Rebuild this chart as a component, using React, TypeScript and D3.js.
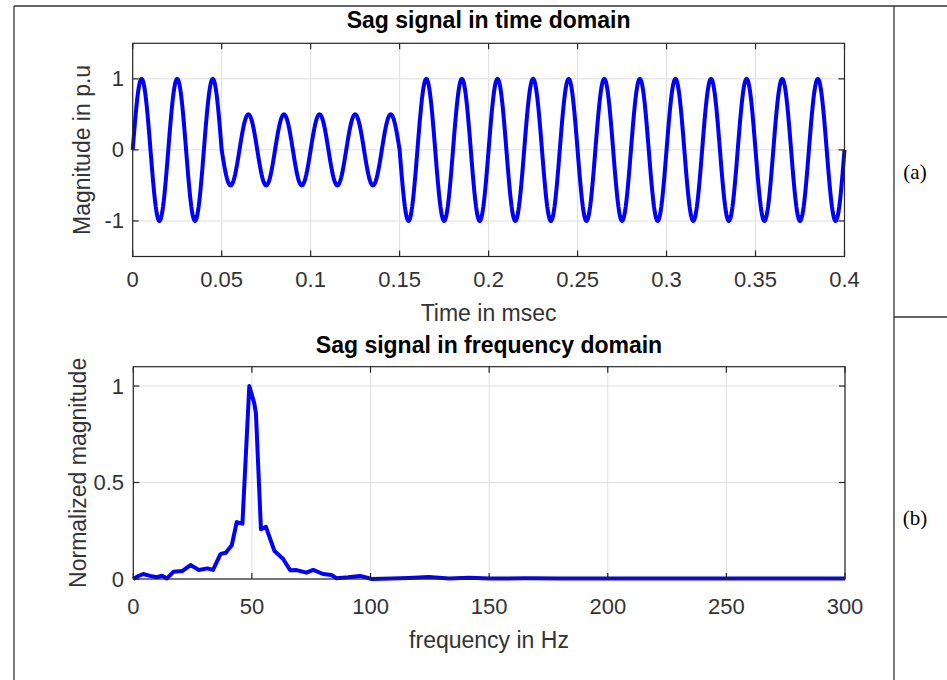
import React from "react";
import * as d3 from "d3";

// ---- Data ----
// Time-domain sag signal: peak value of each 0.01 half-cycle
const halfCycleWidth = 0.01;
const halfCyclePeaks = [
  1, -1, 1, -1, 1,
  -0.5, 0.5, -0.5, 0.5, -0.5, 0.5, -0.5, 0.5, -0.5, 0.5,
  -1, 1, -1, 1, -1, 1, -1, 1, -1, 1, -1, 1, -1, 1, -1, 1, -1, 1, -1, 1, -1, 1, -1, 1, -1,
];
const timeTicks = [0, 0.05, 0.1, 0.15, 0.2, 0.25, 0.3, 0.35, 0.4];
const timeTickLabels = ["0", "0.05", "0.1", "0.15", "0.2", "0.25", "0.3", "0.35", "0.4"];
const magTicks = [-1, 0, 1];

// Frequency-domain spectrum (normalized magnitude)
const freqHz = [0, 2, 4.2, 7.1, 9.9, 12.1, 14.2, 17, 20.6, 24.1, 27.6, 31.2, 33.6, 36.8, 39, 41.5, 43.6, 46, 48.9, 51, 51.7, 53.8, 55.9, 59.5, 63.1, 66.2, 68.8, 73, 75.8, 80, 83.5, 85.7, 90.6, 95.6, 100.6, 109, 116, 124.6, 133, 141.6, 150, 165, 180, 195, 210, 225, 240, 255, 270, 285, 300];
const freqMag = [0, 0.015, 0.026, 0.016, 0.009, 0.017, 0.003, 0.038, 0.041, 0.072, 0.047, 0.055, 0.047, 0.13, 0.136, 0.175, 0.295, 0.287, 1.0, 0.91, 0.857, 0.258, 0.27, 0.145, 0.105, 0.045, 0.046, 0.033, 0.047, 0.026, 0.021, 0.004, 0.009, 0.016, 0.0, 0.002, 0.005, 0.01, 0.003, 0.007, 0.002, 0.004, 0.003, 0.002, 0.003, 0.002, 0.003, 0.002, 0.002, 0.003, 0.003];
const freqTicks = [0, 50, 100, 150, 200, 250, 300];
const normTicks = [0, 0.5, 1];
const normTickLabels = ["0", "0.5", "1"];

const W = 947;
const H = 680;
const AX = "#262626";
const TXT = "#333333";
const GRID = "#dfdfdf";
const BLUE = "#0000ff";
const FONT = "'Liberation Sans', Arial, Helvetica, sans-serif";

export default function App() {
  // top plot
  const x1 = d3.scaleLinear().domain([0, 0.4]).range([132.7, 844.5]);
  const y1 = d3.scaleLinear().domain([-1.5, 1.5]).range([256.5, 43.3]);
  // bottom plot
  const x2 = d3.scaleLinear().domain([0, 300]).range([133.3, 845]);
  const y2 = d3.scaleLinear().domain([0, 1.1]).range([579, 366.7]);

  const sigPts: [number, number][] = [];
  const steps = 24;
  halfCyclePeaks.forEach((p, i) => {
    for (let k = i === 0 ? 0 : 1; k <= steps; k++) {
      const f = k / steps;
      sigPts.push([(i + f) * halfCycleWidth, p * Math.sin(Math.PI * f)]);
    }
  });
  const line1 = d3.line<[number, number]>().x((d) => x1(d[0])).y((d) => y1(d[1]));
  const specPts: [number, number][] = freqHz.map((f, i) => [f, freqMag[i]]);
  const line2 = d3.line<[number, number]>().x((d) => x2(d[0])).y((d) => y2(d[1]));

  const tickLen = 6;

  const axesGrid = (
    xs: d3.ScaleLinear<number, number>,
    ys: d3.ScaleLinear<number, number>,
    xt: number[],
    yt: number[]
  ) => {
    const [l, r] = xs.range();
    const [b, t] = ys.range();
    return (
      <g>
        {xt.map((v, i) => (
          <line key={"gx" + i} x1={xs(v)} x2={xs(v)} y1={t} y2={b} stroke={GRID} strokeWidth={1} />
        ))}
        {yt.map((v, i) => (
          <line key={"gy" + i} x1={l} x2={r} y1={ys(v)} y2={ys(v)} stroke={GRID} strokeWidth={1} />
        ))}
      </g>
    );
  };

  const axesFrame = (
    xs: d3.ScaleLinear<number, number>,
    ys: d3.ScaleLinear<number, number>,
    xt: number[],
    yt: number[]
  ) => {
    const [l, r] = xs.range();
    const [b, t] = ys.range();
    return (
      <g stroke={AX} strokeWidth={1.2} fill="none">
        <rect x={l} y={t} width={r - l} height={b - t} />
        {xt.map((v, i) => (
          <g key={"tx" + i}>
            <line x1={xs(v)} x2={xs(v)} y1={b} y2={b - tickLen} />
            <line x1={xs(v)} x2={xs(v)} y1={t} y2={t + tickLen} />
          </g>
        ))}
        {yt.map((v, i) => (
          <g key={"ty" + i}>
            <line x1={l} x2={l + tickLen} y1={ys(v)} y2={ys(v)} />
            <line x1={r} x2={r - tickLen} y1={ys(v)} y2={ys(v)} />
          </g>
        ))}
      </g>
    );
  };

  return (
    <svg
      width={W}
      height={H}
      style={{ position: "absolute", left: 0, top: 0, background: "#fff" }}
      fontFamily={FONT}
    >
      <rect x={0} y={0} width={W} height={H} fill="#fff" />
      {/* table borders */}
      <g stroke="#333" strokeWidth={1.3}>
        <line x1={14} x2={W} y1={6} y2={6} />
        <line x1={14} x2={14} y1={6} y2={H} />
        <line x1={894} x2={894} y1={6} y2={H} />
        <line x1={894} x2={W} y1={317} y2={317} />
      </g>
      <text x={915} y={172} fontFamily="'Liberation Serif', 'Times New Roman', serif" fontSize={21} textAnchor="middle" dominantBaseline="central" fill="#000">(a)</text>
      <text x={915} y={518} fontFamily="'Liberation Serif', 'Times New Roman', serif" fontSize={21} textAnchor="middle" dominantBaseline="central" fill="#000">(b)</text>

      {/* ---------- top plot ---------- */}
      {axesGrid(x1, y1, timeTicks, magTicks)}
      <path d={line1(sigPts) || ""} fill="none" stroke={BLUE} strokeWidth={4} strokeLinejoin="round" />
      {axesFrame(x1, y1, timeTicks, magTicks)}
      {timeTicks.map((v, i) => (
        <text key={"xl1" + i} x={x1(v)} y={287} fontSize={22} textAnchor="middle" fill={TXT}>{timeTickLabels[i]}</text>
      ))}
      {magTicks.map((v, i) => (
        <text key={"yl1" + i} x={124} y={y1(v)} fontSize={22} textAnchor="end" dominantBaseline="central" fill={TXT}>{String(v)}</text>
      ))}
      <text x={488.6} y={321} fontSize={23} textAnchor="middle" fill={TXT}>Time in msec</text>
      <text transform={`translate(90,${y1(0)}) rotate(-90)`} fontSize={23} textAnchor="middle" fill={TXT}>Magnitude in p.u</text>
      <text x={488.6} y={28} fontSize={23} fontWeight="bold" textAnchor="middle" fill="#000">Sag signal in time domain</text>

      {/* ---------- bottom plot ---------- */}
      {axesGrid(x2, y2, freqTicks, normTicks)}
      <path d={line2(specPts) || ""} fill="none" stroke={BLUE} strokeWidth={4} strokeLinejoin="round" />
      {axesFrame(x2, y2, freqTicks, normTicks)}
      {freqTicks.map((v, i) => (
        <text key={"xl2" + i} x={x2(v)} y={614} fontSize={22} textAnchor="middle" fill={TXT}>{String(v)}</text>
      ))}
      {normTicks.map((v, i) => (
        <text key={"yl2" + i} x={124} y={y2(v)} fontSize={22} textAnchor="end" dominantBaseline="central" fill={TXT}>{normTickLabels[i]}</text>
      ))}
      <text x={489} y={648} fontSize={23} textAnchor="middle" fill={TXT}>frequency in Hz</text>
      <text transform={`translate(86,${(y2.range()[0] + y2.range()[1]) / 2}) rotate(-90)`} fontSize={23} textAnchor="middle" fill={TXT}>Normalized magnitude</text>
      <text x={489} y={353} fontSize={23} fontWeight="bold" textAnchor="middle" fill="#000">Sag signal in frequency domain</text>
    </svg>
  );
}
